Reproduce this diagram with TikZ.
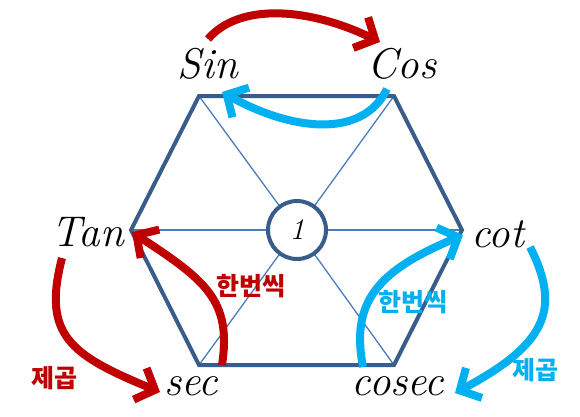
\documentclass[tikz,border=0pt]{standalone}
\usepackage{fontspec}
\newfontfamily\kor{Noto Sans CJK KR}
\usetikzlibrary{arrows.meta}

\definecolor{hexblue}{HTML}{385D8A}
\definecolor{spokeblue}{HTML}{4A7EBB}
\definecolor{arrred}{HTML}{C00000}
\definecolor{arrcyan}{HTML}{00B0F0}

\begin{document}
\begin{tikzpicture}[
  x=1pt, y=-1pt,
  fn/.style={font=\fontsize{43}{48}\selectfont\itshape, inner sep=0pt},
  ko/.style={font=\kor\bfseries\fontsize{25}{27}\selectfont, inner sep=0pt},
  curl/.style={line width=8pt, -{Straight Barb[length=16pt,width=34pt]}}
]
  \useasboundingbox (0,0) rectangle (580,416);

  % hexagon
  \coordinate (O) at (297,230);
  \coordinate (TL) at (199,96);
  \coordinate (TR) at (394,96);
  \coordinate (L) at (131,230);
  \coordinate (R) at (462,230);
  \coordinate (BL) at (199,365);
  \coordinate (BR) at (394,365);

  \foreach \v in {TL,TR,L,R,BL,BR}
    \draw[spokeblue, line width=1.3pt] (O) -- (\v);
  \draw[hexblue, line width=4pt, line join=miter]
    (TL) -- (TR) -- (R) -- (BR) -- (BL) -- (L) -- cycle;
  \node[circle, draw=hexblue, line width=4pt, fill=white,
        minimum size=58pt, inner sep=0pt,
        font=\fontsize{30}{32}\selectfont\itshape] (one) at (O) {1};

  % function names
  \node[fn] (sin) at (208,64) {Sin};
  \node[fn] (cos) at (402,64) {Cos};
  \node[fn] (tan) at (88,232) {Tan};
  \node[fn] (cot) at (498,234) {cot};
  \node[fn] (sec) at (191,386) {sec};
  \node[fn] (cosec) at (398,386) {cosec};

  % arrows
  \coordinate (s1) at (208,39);  \coordinate (e1) at (380,42);
  \coordinate (s2) at (387,89);  \coordinate (e2) at (222,92);
  \coordinate (s3) at (62,258);  \coordinate (e3) at (160,392);
  \coordinate (s4) at (222,365); \coordinate (e4) at (132,232);
  \coordinate (s5) at (363,367); \coordinate (e5) at (463,235);
  \coordinate (s6) at (530,247); \coordinate (e6) at (455,393);

  \draw[curl, arrred] (s1) .. controls (240,2) and (310,8) .. (e1);
  \draw[curl, arrcyan] (s2) .. controls (362,140) and (290,130) .. (e2);
  \draw[curl, arrred] (s3) .. controls (42,335) and (70,355) .. (e3);
  \draw[curl, arrred] (s4) .. controls (232,300) and (205,280) .. (e4);
  \draw[curl, arrcyan] (s5) .. controls (350,300) and (380,270) .. (e5);
  \draw[curl, arrcyan] (s6) .. controls (562,310) and (545,345) .. (e6);

  % korean labels
  \node[ko, arrred] (once1) at (251,286) {한번씩};
  \node[ko, arrcyan] (once2) at (413,302) {한번씩};
  \node[ko, arrred] (sq1) at (54,378) {제곱};
  \node[ko, arrcyan] (sq2) at (535,370) {제곱};
\end{tikzpicture}
\end{document}
